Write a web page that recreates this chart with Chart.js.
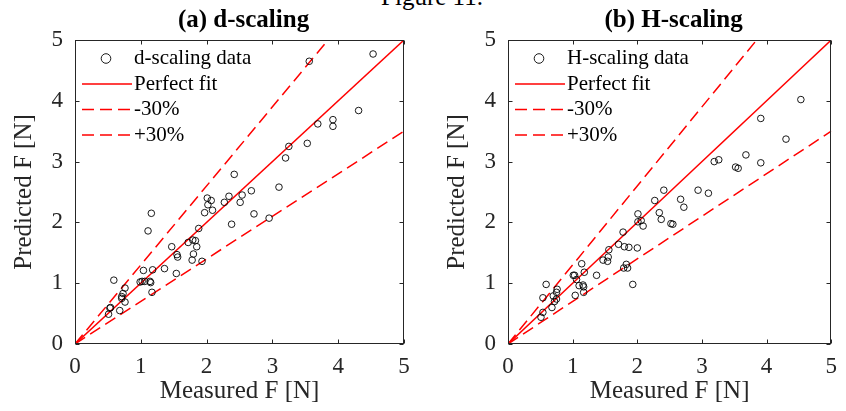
<!DOCTYPE html>
<html>
<head>
<meta charset="utf-8">
<script src="https://cdn.jsdelivr.net/npm/chart.js@4/dist/chart.umd.min.js"></script>
<style>
  html, body { margin: 0; padding: 0; background: #fff; }
  #wrap { position: relative; width: 846px; height: 411px; overflow: hidden; }
  #fig { position: absolute; left: 0; width: 864px; top: -18px; text-align: center;
         font: 25px "Liberation Serif", serif; line-height: 30px; color: #000; }
  .panel { position: absolute; top: 0; height: 411px; }
</style>
</head>
<body>
<div id="wrap">
  <div id="fig">Figure 11.</div>
  <div class="panel" style="left:0;width:423px"><canvas id="cA" width="423" height="411"></canvas></div>
  <div class="panel" style="left:433px;width:413px"><canvas id="cB" width="413" height="411"></canvas></div>
</div>
<script>
// Axis range and tick values shared by both panels
const axisTicks = [0, 1, 2, 3, 4, 5];
const axisMax = 5;
// Ratio lines: perfect agreement and the ±30% bounds
const fitFactor = 1;
const lowerFactor = 0.7;
const upperFactor = 1.3;

// (a) d-scaling: measured vs predicted force [N]
const dMeasured = [4.53, 3.56, 4.31, 3.92, 3.92, 3.69, 3.53, 3.25, 3.20, 3.10,
                   2.95, 2.72, 2.68, 2.54, 2.51, 2.42, 2.34, 2.27, 2.38, 2.01,
                   2.07, 2.02, 2.09, 1.97, 1.88, 1.72, 1.79, 1.83, 1.85, 1.80,
                   1.78, 1.93, 1.47, 1.55, 1.56, 1.54, 1.36, 1.18, 1.16, 1.11,
                   1.04, 0.99, 1.02, 1.06, 1.14, 1.15, 1.17, 0.59, 0.76, 0.73,
                   0.71, 0.71, 0.76, 0.68, 0.54, 0.53, 0.51];
const dPredicted = [4.77, 4.65, 3.84, 3.69, 3.58, 3.62, 3.30, 3.25, 3.06, 2.58,
                    2.07, 2.14, 2.52, 2.45, 2.33, 2.79, 2.43, 2.33, 1.97, 2.40,
                    2.36, 2.29, 2.20, 2.16, 1.90, 1.67, 1.71, 1.70, 1.60, 1.48,
                    1.38, 1.36, 1.60, 1.47, 1.43, 1.16, 1.24, 1.22, 2.15, 1.86,
                    1.21, 1.02, 1.03, 1.03, 1.03, 1.01, 0.85, 1.05, 0.92, 0.83,
                    0.78, 0.75, 0.69, 0.55, 0.60, 0.59, 0.49];

// (b) H-scaling: measured vs predicted force [N]
const hMeasured = [4.53, 3.91, 4.30, 3.91, 3.68, 3.52, 3.56, 3.26, 3.19, 3.10,
                   2.94, 2.67, 2.72, 2.41, 2.27, 2.34, 2.37, 2.52, 2.55, 2.01,
                   2.01, 2.06, 2.09, 1.78, 1.71, 1.80, 1.87, 2.00, 1.56, 1.55,
                   1.47, 1.54, 1.83, 1.79, 1.85, 1.93, 1.37, 1.14, 1.18, 1.01,
                   1.03, 1.06, 1.10, 1.16, 1.17, 1.17, 1.04, 0.59, 0.54, 0.76,
                   0.75, 0.70, 0.75, 0.72, 0.68, 0.54, 0.51];
const hPredicted = [4.02, 3.71, 3.37, 2.98, 3.11, 2.91, 2.89, 3.03, 3.00, 2.48,
                    2.53, 2.38, 2.25, 2.53, 2.36, 2.16, 2.05, 1.98, 1.97, 2.14,
                    2.01, 2.03, 1.94, 1.84, 1.64, 1.60, 1.59, 1.58, 1.55, 1.43,
                    1.38, 1.36, 1.31, 1.25, 1.25, 0.98, 1.13, 1.32, 1.18, 1.13,
                    1.13, 1.06, 0.96, 0.97, 0.94, 0.85, 0.80, 0.98, 0.76, 0.90,
                    0.85, 0.79, 0.74, 0.70, 0.60, 0.52, 0.44];

const SERIF = '"Liberation Serif", "Times New Roman", serif';
const AXIS_COLOR = '#262626';

function toPoints(xs, ys) {
  return xs.map((x, i) => ({ x: x, y: ys[i] }));
}
function ratioLine(factor) {
  return [{ x: 0, y: 0 }, { x: axisMax, y: axisMax * factor }];
}

// Box outline, inward tick marks, panel title and in-plot legend
const framePlugin = {
  id: 'frame',
  afterDraw(chart, args, opts) {
    const { ctx, chartArea: a, scales } = chart;
    const tl = 4;
    ctx.save();
    ctx.strokeStyle = AXIS_COLOR;
    ctx.lineWidth = 1;
    ctx.setLineDash([]);
    const L = Math.round(a.left) + 0.5, R = Math.round(a.right) - 0.5;
    const T = Math.round(a.top) + 0.5, B = Math.round(a.bottom) - 0.5;
    ctx.strokeRect(L, T, R - L, B - T);
    ctx.beginPath();
    scales.x.ticks.forEach(t => {
      const px = Math.round(scales.x.getPixelForValue(t.value)) + 0.5;
      ctx.moveTo(px, B); ctx.lineTo(px, B - tl);
      ctx.moveTo(px, T); ctx.lineTo(px, T + tl);
    });
    scales.y.ticks.forEach(t => {
      const py = Math.round(scales.y.getPixelForValue(t.value)) + 0.5;
      ctx.moveTo(L, py); ctx.lineTo(L + tl, py);
      ctx.moveTo(R, py); ctx.lineTo(R - tl, py);
    });
    ctx.stroke();

    // panel title
    ctx.fillStyle = '#000';
    ctx.font = 'bold 25px ' + SERIF;
    ctx.textAlign = 'center';
    ctx.textBaseline = 'alphabetic';
    ctx.fillText(opts.title, (a.left + a.right) / 2 + 4, 27);

    // legend
    ctx.font = '21px ' + SERIF;
    ctx.textAlign = 'left';
    ctx.textBaseline = 'middle';
    chart.data.datasets.forEach((ds, i) => {
      const y = a.top + 18.5 + i * 25.5;
      if (ds.showLine === false) {
        ctx.strokeStyle = ds.borderColor;
        ctx.lineWidth = ds.borderWidth;
        ctx.setLineDash([]);
        ctx.beginPath();
        ctx.arc(a.left + 31, y, ds.pointRadius + 1.5, 0, Math.PI * 2);
        ctx.stroke();
      } else {
        ctx.strokeStyle = ds.borderColor;
        ctx.lineWidth = ds.borderWidth;
        ctx.setLineDash(ds.borderDash || []);
        ctx.beginPath();
        ctx.moveTo(a.left + 7, y);
        ctx.lineTo(a.left + 57, y);
        ctx.stroke();
      }
      ctx.fillStyle = '#000';
      ctx.fillText(ds.label, a.left + 59, y);
    });
    ctx.restore();
  }
};

function makeChart(canvasId, title, dataLabel, xs, ys, rightPad) {
  const tickFont = { family: SERIF, size: 23 };
  const titleFont = { family: SERIF, size: 25 };
  return new Chart(document.getElementById(canvasId), {
    type: 'scatter',
    data: {
      datasets: [
        { label: dataLabel, data: toPoints(xs, ys), showLine: false,
          pointStyle: 'circle', pointRadius: 3.3, borderWidth: 0.9,
          borderColor: '#000', backgroundColor: 'rgba(0,0,0,0)' },
        { label: 'Perfect fit', data: ratioLine(fitFactor), showLine: true,
          pointRadius: 0, borderColor: '#ff0000', borderWidth: 1.5 },
        { label: '-30%', data: ratioLine(lowerFactor), showLine: true,
          pointRadius: 0, borderColor: '#ff0000', borderWidth: 1.5, borderDash: [12, 6] },
        { label: '+30%', data: ratioLine(upperFactor), showLine: true,
          pointRadius: 0, borderColor: '#ff0000', borderWidth: 1.5, borderDash: [12, 6] }
      ]
    },
    options: {
      responsive: false,
      animation: false,
      layout: { padding: { top: 40, right: rightPad, left: 0, bottom: 0 } },
      plugins: {
        legend: { display: false },
        tooltip: { enabled: false },
        frame: { title: title }
      },
      scales: {
        x: {
          type: 'linear', min: 0, max: axisMax,
          afterBuildTicks: s => { s.ticks = axisTicks.map(v => ({ value: v })); },
          afterFit: s => { s.height = 67; },
          grid: { display: false, drawTicks: false },
          border: { display: false },
          ticks: { font: tickFont, color: AXIS_COLOR, padding: 9, maxRotation: 0 },
          title: { display: true, text: 'Measured F [N]', font: titleFont,
                   color: AXIS_COLOR, padding: { top: 0, bottom: 5 } }
        },
        y: {
          type: 'linear', min: 0, max: axisMax,
          afterBuildTicks: s => { s.ticks = axisTicks.map(v => ({ value: v })); },
          afterFit: s => { s.width = 75; },
          grid: { display: false, drawTicks: false },
          border: { display: false },
          ticks: { font: tickFont, color: AXIS_COLOR, padding: 12 },
          title: { display: true, text: 'Predicted F [N]', font: titleFont,
                   color: AXIS_COLOR, padding: { top: 9, bottom: 0 } }
        }
      }
    },
    plugins: [framePlugin]
  });
}

makeChart('cA', '(a) d-scaling', 'd-scaling data', dMeasured, dPredicted, 19);
makeChart('cB', '(b) H-scaling', 'H-scaling data', hMeasured, hPredicted, 8);
</script>
</body>
</html>
